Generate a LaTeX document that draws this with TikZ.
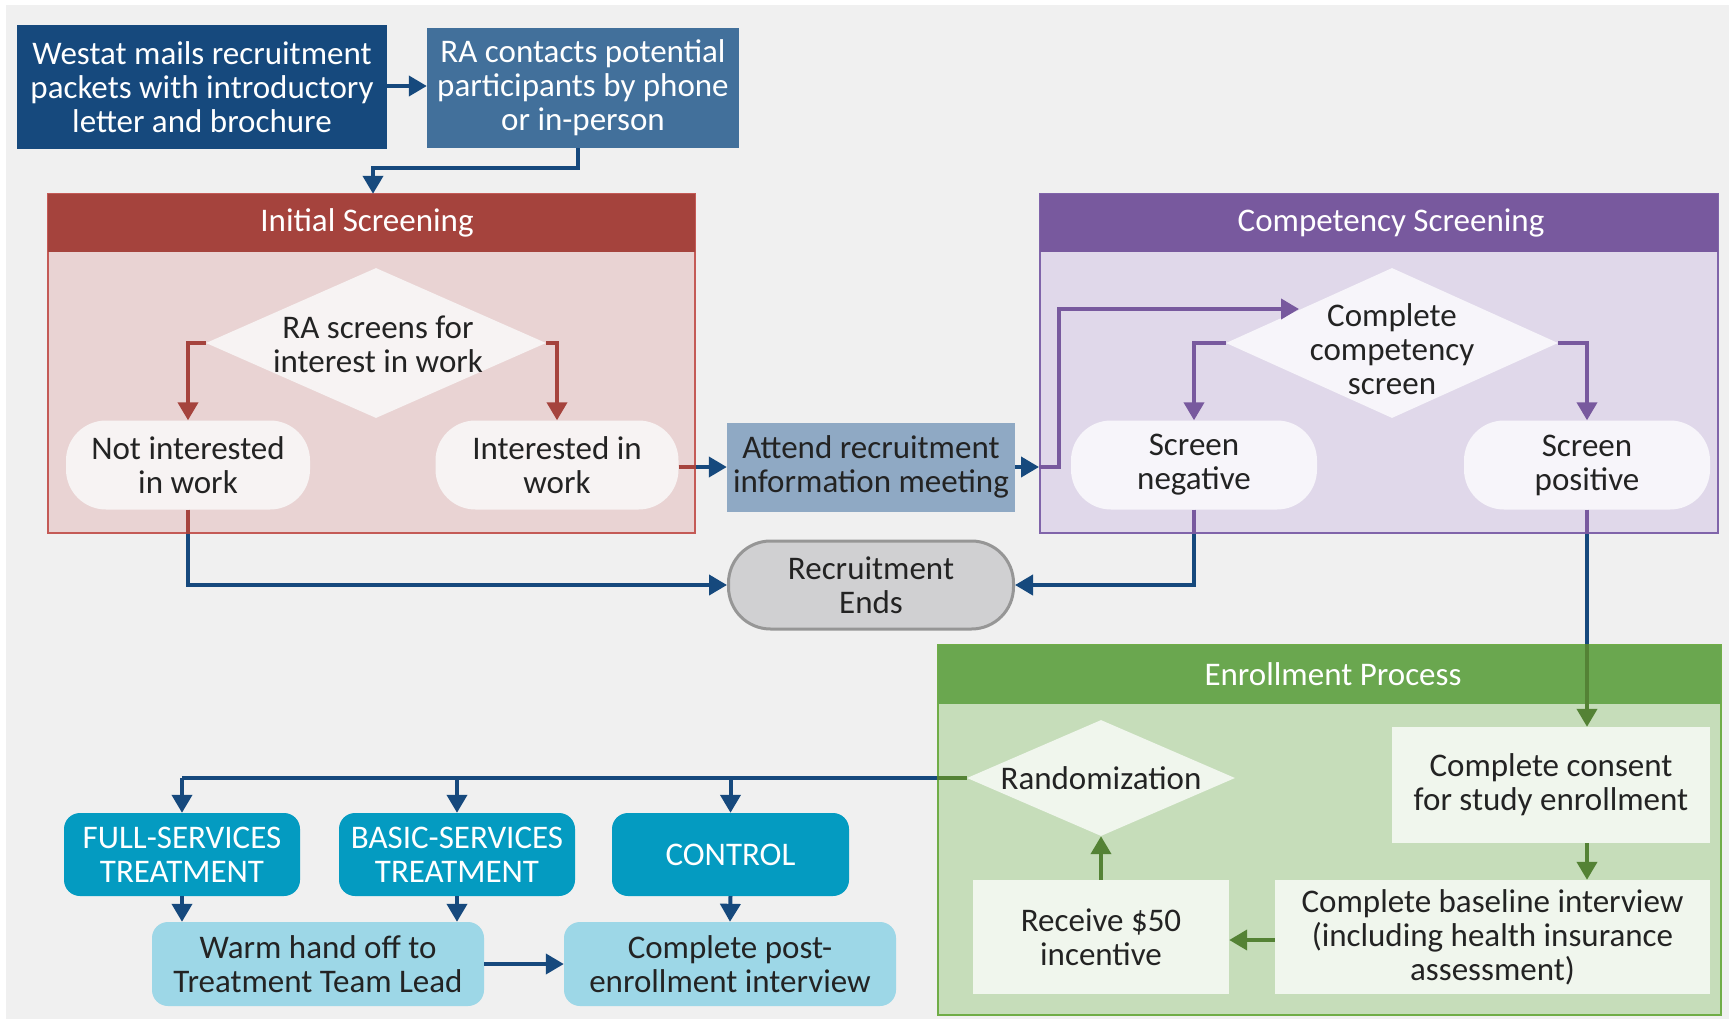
\documentclass[tikz,border=0pt]{standalone}
\usepackage{fontspec}
\setmainfont{Carlito}
\usetikzlibrary{arrows.meta,shapes.geometric}
\definecolor{bggray}{RGB}{240,240,240}
\definecolor{dkblue}{RGB}{22,73,125}
\definecolor{midblue}{RGB}{66,112,155}
\definecolor{attendc}{RGB}{143,169,196}
\definecolor{redhead}{RGB}{165,67,61}
\definecolor{redbody}{RGB}{233,211,211}
\definecolor{redborder}{RGB}{196,90,86}
\definecolor{purhead}{RGB}{120,89,158}
\definecolor{purbody}{RGB}{224,216,234}
\definecolor{purborder}{RGB}{128,100,170}
\definecolor{grnhead}{RGB}{106,167,79}
\definecolor{grnbody}{RGB}{198,221,186}
\definecolor{grnborder}{RGB}{112,173,71}
\definecolor{grnbox}{RGB}{240,246,237}
\definecolor{grnarrow}{RGB}{84,130,53}
\definecolor{teal}{RGB}{4,155,193}
\definecolor{ltblue}{RGB}{157,215,231}
\definecolor{pillc}{RGB}{247,243,243}
\definecolor{pillp}{RGB}{247,245,250}
\definecolor{endfill}{RGB}{208,208,210}
\definecolor{endborder}{RGB}{150,150,150}
\definecolor{txt}{RGB}{35,35,35}
\begin{document}
\begin{tikzpicture}[x=1pt,y=-1pt,
  font=\fontsize{33}{34}\selectfont,
  every node/.style={inner sep=0pt, align=center, text=txt},
  sqbox/.style={rectangle},
  pill/.style={rectangle, rounded corners=40pt, minimum height=89pt},
  tbox/.style={rectangle, rounded corners=16pt, fill=teal, text=white, minimum width=236pt, minimum height=83pt},
  lbox/.style={rectangle, rounded corners=16pt, fill=ltblue, minimum width=332pt, minimum height=84pt},
  dia/.style={diamond, inner sep=0pt},
  grpbody/.style={rectangle, line width=2pt},
  grphead/.style={rectangle, text=white},
  conn/.style={line width=4pt},
  arr/.style={conn, -{Triangle[length=18pt,width=20pt]}},
]
% background
\fill[white] (0,0) rectangle (1735,1023);
\fill[bggray] (6,5) rectangle (1729,1019);

% top boxes
\node[sqbox, fill=dkblue, text=white, minimum width=370pt, minimum height=124pt] (westat) at (202,87) {Westat mails recruitment\\packets with introductory\\letter and brochure};
\node[sqbox, fill=midblue, text=white, minimum width=312pt, minimum height=120pt] (ra) at (583,88) {RA contacts potential\\participants by phone\\or in-person};

% group 1: Initial Screening
\node[grpbody, draw=redborder, fill=redbody, minimum width=647pt, minimum height=339pt] (g1) at (371.5,363.5) {};
\node[grphead, fill=redhead, minimum width=647pt, minimum height=58pt] (g1h) at (371.5,223) {Initial Screening\hspace*{9pt}};
\node[dia, fill=pillc, minimum width=340pt, minimum height=150pt] (d1) at (376,343) {};
\node (d1t) at (378,344) {RA screens for\\interest in work};
\node[pill, fill=pillc, minimum width=244pt] (ni) at (188,465) {Not interested\\in work};
\node[pill, fill=pillc, minimum width=243pt] (iw) at (557,465) {Interested in\\work};

% attend
\node[sqbox, fill=attendc, minimum width=288pt, minimum height=89pt] (att) at (871,467) {Attend recruitment\\information meeting};

% group 2: Competency Screening
\node[grpbody, draw=purborder, fill=purbody, minimum width=678pt, minimum height=339pt] (g2) at (1379,363.5) {};
\node[grphead, fill=purhead, minimum width=678pt, minimum height=58pt] (g2h) at (1379,223) {\hspace*{24pt}Competency Screening};
\node[dia, fill=pillp, minimum width=332pt, minimum height=150pt] (d2) at (1392,343) {};
\node (d2t) at (1392,349) {Complete\\competency\\screen};
\node[pill, fill=pillp, minimum width=246pt] (sn) at (1194,465) {Screen\\negative};
\node[pill, fill=pillp, minimum width=246pt] (sp) at (1587,465) {Screen\\positive};
\coordinate (c2a) at (1059,309);
\coordinate (c2in) at (1299,309);

% recruitment ends
\node[pill, draw=endborder, line width=3pt, fill=endfill, minimum width=285pt, minimum height=88pt, rounded corners=42pt] (re) at (871,585) {Recruitment\\Ends};

% group 3: Enrollment Process
\node[grpbody, draw=grnborder, fill=grnbody, minimum width=783pt, minimum height=370pt] (g3) at (1329.5,830) {};
\node[grphead, fill=grnhead, minimum width=783pt, minimum height=59pt] (g3h) at (1329.5,674.5) {\hspace*{7pt}Enrollment Process};
\node[dia, fill=grnbox, minimum width=268pt, minimum height=116pt] (d3) at (1101,778) {};
\node (d3t) at (1101,778) {Randomization};
\node[sqbox, fill=grnbox, minimum width=318pt, minimum height=116pt] (consent) at (1551,785) {Complete consent\\for study enrollment};
\node[sqbox, fill=grnbox, minimum width=435pt, minimum height=114pt] (base) at (1492.5,937) {Complete baseline interview\\(including health insurance\\assessment)};
\node[sqbox, fill=grnbox, minimum width=256pt, minimum height=114pt] (recv) at (1101,937) {Receive \$50\\incentive};

% treatments
\node[tbox] (full) at (182,854.5) {FULL-SERVICES\\TREATMENT};
\node[tbox] (basic) at (457,854.5) {BASIC-SERVICES\\TREATMENT};
\node[tbox, minimum width=237pt] (ctrl) at (730.5,854.5) {CONTROL};
\node[lbox] (warm) at (318,964) {Warm hand off to\\Treatment Team Lead};
\node[lbox] (post) at (730,964) {Complete post-\\enrollment interview};

% connectors
\draw[arr, dkblue] (westat.east |- 0,86) -- (ra.west |- 0,86);
\draw[arr, dkblue] (ra.south -| 578,0) |- (373,168) -- (g1h.north -| 373,0);

\draw[arr, redhead] (d1.west) -| (ni.north);
\draw[arr, redhead] (d1.east) -| (iw.north);

\draw[conn, redhead] (iw.east |- 0,467) -- (g1.east |- 0,467);
\draw[arr, dkblue] (g1.east |- 0,467) -- (att.west |- 0,467);

\draw[conn, redhead] (ni.south) -- (ni.south |- g1.south);
\draw[arr, dkblue] (ni.south |- g1.south) |- (re.west);

\draw[arr, dkblue] (att.east) -- (att.east -| g2.west);
\draw[arr, purhead] (att.east -| g2.west) -| (c2a) -- (c2in);

\draw[arr, purhead] (d2.west) -| (sn.north);
\draw[arr, purhead] (d2.east) -| (sp.north);

\draw[conn, purhead] (sn.south) -- (sn.south |- g2.south);
\draw[arr, dkblue] (sn.south |- g2.south) |- (re.east);

\draw[conn, purhead] (sp.south) -- (sp.south |- g2.south);
\draw[conn, dkblue] (sp.south |- g2.south) -- (sp.south |- g3.north);
\draw[arr, grnarrow] (sp.south |- g3.north) -- (sp.south |- consent.north);

\draw[arr, grnarrow] (sp.south |- consent.south) -- (sp.south |- base.north);
\draw[arr, grnarrow] (base.west |- 0,940) -- (recv.east |- 0,940);
\draw[arr, grnarrow] (recv.north) -- (d3.south);

\draw[conn, grnarrow] (d3.west) -- (d3.west -| g3.west);
\draw[conn, dkblue] (d3.west -| g3.west) -- (d3.west -| full.north);
\draw[arr, dkblue] (d3.west -| full.north) -- (full.north);
\draw[arr, dkblue] (d3.west -| basic.north) -- (basic.north);
\draw[arr, dkblue] (d3.west -| ctrl.north) -- (ctrl.north);

\draw[arr, dkblue] (full.south) -- (full.south |- warm.north);
\draw[arr, dkblue] (basic.south) -- (basic.south |- warm.north);
\draw[arr, dkblue] (ctrl.south) -- (post.north);
\draw[arr, dkblue] (warm.east) -- (post.west);
\end{tikzpicture}
\end{document}
